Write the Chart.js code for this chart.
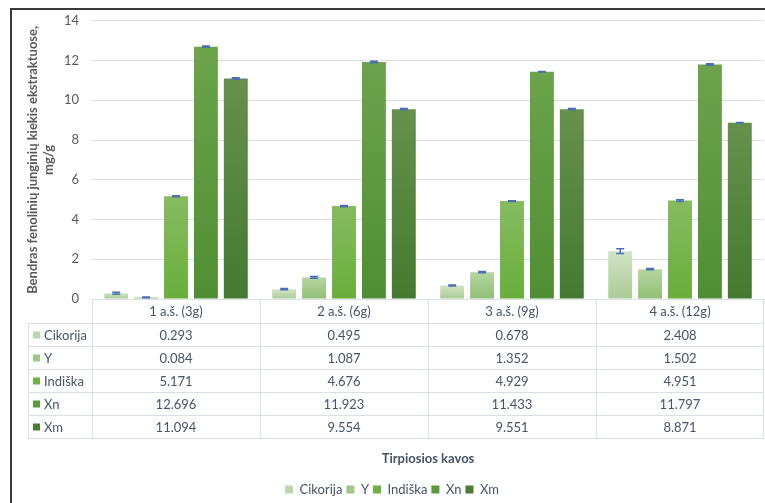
<!DOCTYPE html>
<html>
<head>
<meta charset="utf-8">
<script src="https://cdn.jsdelivr.net/npm/chart.js@4"></script>
<style>
  html, body { margin: 0; padding: 0; background: #fff; }
  #wrap { width: 765px; height: 503px; position: relative; }
</style>
</head>
<body>
<div id="wrap"><canvas id="chart"></canvas></div>
<script>
const categories = ['1 a.š. (3g)', '2 a.š. (6g)', '3 a.š. (9g)', '4 a.š. (12g)'];
const seriesNames = ['Cikorija', 'Y', 'Indiška', 'Xn', 'Xm'];
const cikorija = [0.293, 0.495, 0.678, 2.408];
const yVals = [0.084, 1.087, 1.352, 1.502];
const indiska = [5.171, 4.676, 4.929, 4.951];
const xn = [12.696, 11.923, 11.433, 11.797];
const xm = [11.094, 9.554, 9.551, 8.871];
// error bar sizes (estimated, small)
const errCikorija = [0.05, 0.03, 0.03, 0.12];
const errY = [0.02, 0.04, 0.03, 0.03];
const errIndiska = [0.03, 0.03, 0.02, 0.04];
const errXn = [0.03, 0.04, 0.01, 0.04];
const errXm = [0.04, 0.03, 0.03, 0.01];
const yTicks = [0, 2, 4, 6, 8, 10, 12, 14];

const allValues = [cikorija, yVals, indiska, xn, xm];
const allErrors = [errCikorija, errY, errIndiska, errXn, errXm];

// colours: solid (legend) + gradient top/bottom
const solid = ['#bcd7ab', '#a0c987', '#6fb143', '#5a9a3b', '#4b7d35'];
const gradTop = ['#d2e4c7', '#b6d6a2', '#86bc60', '#6ca34c', '#66914b'];
const gradBot = ['#abcb95', '#90bf74', '#69ae3c', '#4f8f33', '#447a2f'];

const font = "Lato, 'Open Sans', sans-serif";
const lineCol = '#d9e0ea';

function barGradient(i) {
  return function(ctx) {
    const chart = ctx.chart;
    if (!chart.chartArea || ctx.parsed == null) return solid[i];
    const ys = chart.scales.y;
    const top = ys.getPixelForValue(ctx.parsed.y);
    const bot = ys.getPixelForValue(0);
    if (!isFinite(top) || !isFinite(bot) || top === bot) return solid[i];
    const g = chart.ctx.createLinearGradient(0, top, 0, bot);
    g.addColorStop(0, gradTop[i]);
    g.addColorStop(1, gradBot[i]);
    return g;
  };
}

const datasets = seriesNames.map((name, i) => ({
  label: name,
  data: allValues[i],
  backgroundColor: barGradient(i),
  borderWidth: 0
}));

// frame + white background
const framePlugin = {
  id: 'frame',
  beforeDraw(chart) {
    const c = chart.ctx;
    c.save();
    c.fillStyle = '#fff';
    c.fillRect(0, 0, chart.width, chart.height);
    c.strokeStyle = '#3a3a3a';
    c.lineWidth = 2;
    c.beginPath();
    c.moveTo(11, chart.height + 5);
    c.lineTo(11, 9);
    c.lineTo(chart.width + 5, 9);
    c.stroke();
    c.restore();
  }
};

// error bars
const errorBarPlugin = {
  id: 'errorBars',
  afterDatasetsDraw(chart) {
    const c = chart.ctx;
    const ys = chart.scales.y;
    c.save();
    c.strokeStyle = '#4a6fb5';
    c.lineWidth = 1.5;
    chart.data.datasets.forEach((ds, i) => {
      const meta = chart.getDatasetMeta(i);
      meta.data.forEach((bar, j) => {
        const v = allValues[i][j], e = allErrors[i][j];
        const y1 = ys.getPixelForValue(v + e);
        const y2 = ys.getPixelForValue(Math.max(0, v - e));
        c.beginPath();
        c.moveTo(bar.x, y1); c.lineTo(bar.x, y2);
        c.moveTo(bar.x - 4, y1); c.lineTo(bar.x + 4, y1);
        c.moveTo(bar.x - 4, y2); c.lineTo(bar.x + 4, y2);
        c.stroke();
      });
    });
    c.restore();
  }
};

// data table under the plot
const tablePlugin = {
  id: 'dataTable',
  afterDraw(chart) {
    const c = chart.ctx;
    const xs = chart.scales.x;
    const area = chart.chartArea;
    const colW = (area.right - area.left) / categories.length;
    const headBot = area.bottom + 24;
    const rowH = 23;
    const tableLeft = 28;
    const tableBot = headBot + rowH * seriesNames.length;
    c.save();
    c.strokeStyle = lineCol;
    c.lineWidth = 1;
    c.beginPath();
    // horizontal lines
    for (let r = 0; r <= seriesNames.length; r++) {
      const y = Math.round(headBot + r * rowH) + 0.5;
      c.moveTo(tableLeft, y); c.lineTo(area.right, y);
    }
    // vertical lines
    c.moveTo(tableLeft + 0.5, headBot); c.lineTo(tableLeft + 0.5, tableBot);
    for (let k = 0; k <= categories.length; k++) {
      const x = Math.round(area.left + k * colW) + (k === categories.length ? -0.5 : 0.5);
      c.moveTo(x, area.bottom); c.lineTo(x, tableBot);
    }
    c.stroke();

    c.font = '13px ' + font;
    c.textBaseline = 'middle';
    seriesNames.forEach((name, r) => {
      const yc = headBot + r * rowH + rowH / 2 + 1;
      c.fillStyle = solid[r];
      c.fillRect(33, yc - 4, 7, 7);
      c.fillStyle = '#44546a';
      c.textAlign = 'left';
      c.fillText(name, 44, yc);
      c.textAlign = 'center';
      categories.forEach((cat, k) => {
        c.fillText(allValues[r][k].toFixed(3), xs.getPixelForValue(k), yc);
      });
    });
    c.restore();
  }
};

new Chart(document.getElementById('chart'), {
  type: 'bar',
  data: { labels: categories, datasets },
  plugins: [framePlugin, errorBarPlugin, tablePlugin],
  options: {
    responsive: true,
    maintainAspectRatio: false,
    animation: false,
    devicePixelRatio: 1,
    layout: { padding: { left: 20, right: 1, top: 19, bottom: -3 } },
    datasets: { bar: { categoryPercentage: 0.89, barPercentage: 0.8 } },
    plugins: {
      tooltip: { enabled: false },
      legend: {
        position: 'bottom',
        labels: {
          boxWidth: 8,
          boxHeight: 8,
          padding: 4,
          color: '#44546a',
          font: { family: font, size: 13 },
          generateLabels(chart) {
            return seriesNames.map((n, i) => ({
              text: n, fillStyle: solid[i], strokeStyle: solid[i], lineWidth: 0,
              fontColor: '#44546a', datasetIndex: i, hidden: false
            }));
          }
        }
      }
    },
    scales: {
      x: {
        grid: { display: false, drawTicks: false },
        border: { color: lineCol },
        ticks: { color: '#44546a', font: { family: font, size: 13 }, padding: 5, maxRotation: 0 },
        title: {
          display: true, text: 'Tirpiosios kavos', color: '#44546a',
          font: { family: font, size: 13, weight: 'bold' }, padding: { top: 0, bottom: 12 }
        },
        afterFit(scale) { scale.height = 180; }
      },
      y: {
        min: 0, max: 14,
        afterBuildTicks(scale) { scale.ticks = yTicks.map(v => ({ value: v })); },
        grid: { color: lineCol, drawTicks: false },
        border: { display: false },
        ticks: { color: '#595959', font: { family: font, size: 13 }, padding: 13 },
        title: {
          display: true,
          text: ['Bendras fenolinių junginių kiekis ekstraktuose,', 'mg/g'],
          color: '#595959',
          font: { family: font, size: 13, weight: 'bold' },
          padding: { top: 5, bottom: 0 }
        },
        afterFit(scale) { scale.width = 72; }
      }
    }
  }
});
</script>
</body>
</html>
